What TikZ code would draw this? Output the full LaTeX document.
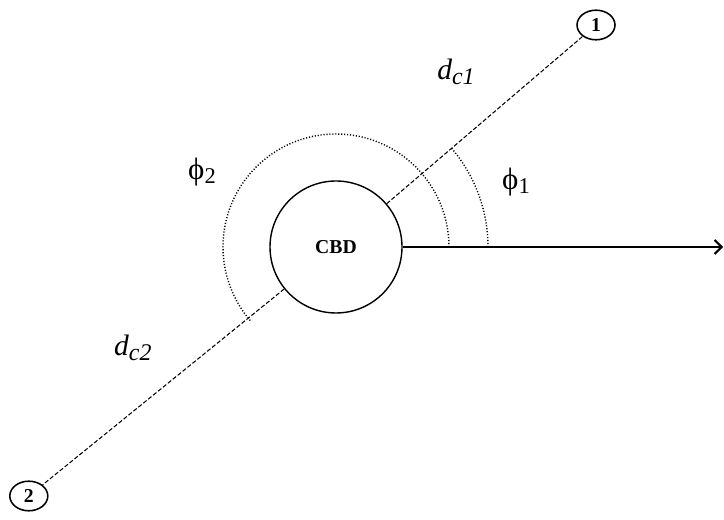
\documentclass[tikz,border=0pt]{standalone}
\usepackage{fontspec}
\setmainfont{Liberation Serif}
\usetikzlibrary{arrows.meta,shapes.geometric}

\begin{document}
\begin{tikzpicture}[font=\normalsize,
  hub/.style={draw,circle,line width=1pt,minimum size=3.3cm,inner sep=0pt,
              font=\bfseries\fontsize{14}{16}\selectfont},
  site/.style={draw,ellipse,line width=1.1pt,minimum width=0.95cm,minimum height=0.74cm,
               inner sep=0pt,font=\bfseries\fontsize{14}{16}\selectfont},
  ray/.style={line width=0.75pt,dash pattern=on 3pt off 1.5pt},
  ang/.style={line width=1pt,dash pattern=on 0.8pt off 1.3pt}]
\useasboundingbox (0,0) rectangle (18.1,13);
\node[hub] (cbd) at (8.4,6.825) {CBD};
\node[site] (s1) at (14.9,12.375) {1};
\node[site] (s2) at (0.72,0.6) {2};
\coordinate (east) at (18.08,6.825);
\draw[ray] (cbd) -- (s1);
\draw[ray] (cbd) -- (s2);
\draw[line width=1.5pt,-{Straight Barb[length=5pt,width=10pt]}] (cbd) -- (east);
\draw[ang] ([shift={(0:3.8)}]cbd.center) arc[start angle=0,end angle=41,radius=3.8];
\draw[ang] ([shift={(0:2.825)}]cbd.center) arc[start angle=0,end angle=221,radius=2.825];
\node (dc1) at (11.4,11.2)
  {\fontsize{21}{23}\selectfont\itshape d\raisebox{-0.4ex}{\fontsize{17}{19}\selectfont c1}};
\node (dc2) at (3.32,4.3)
  {\fontsize{21}{23}\selectfont\itshape d\raisebox{-0.4ex}{\fontsize{17}{19}\selectfont c2}};
\node (phi1) at (12.9,8.45)
  {\fontsize{22}{24}\selectfont\char"03D5\raisebox{-0.3ex}{\fontsize{16}{18}\selectfont 1}};
\node (phi2) at (5.05,8.7)
  {\fontsize{22}{24}\selectfont\char"03D5\raisebox{-0.3ex}{\fontsize{16}{18}\selectfont 2}};
\end{tikzpicture}
\end{document}
